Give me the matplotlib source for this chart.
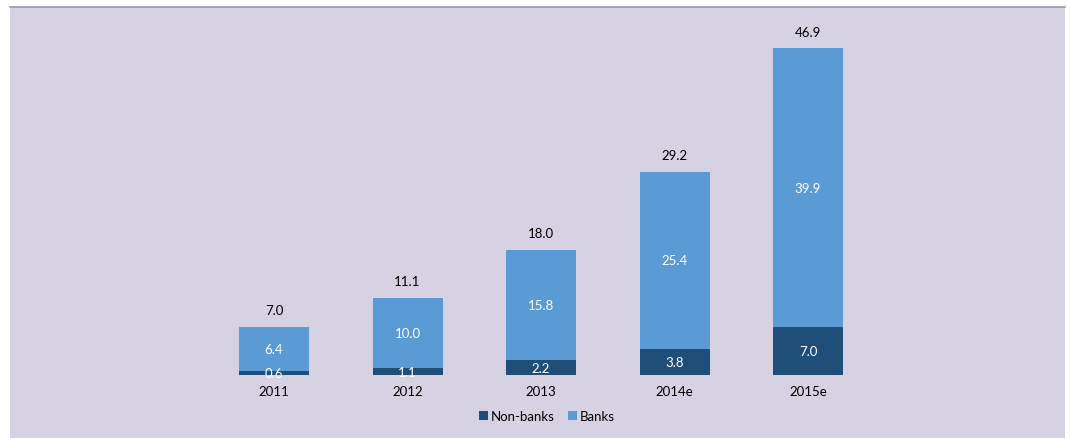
import matplotlib.pyplot as plt
from matplotlib.patches import Rectangle
from matplotlib.lines import Line2D
import numpy as np

years = ['2011', '2012', '2013', '2014e', '2015e']
non_banks = [0.6, 1.1, 2.2, 3.8, 7.0]
banks = [6.4, 10.0, 15.8, 25.4, 39.9]
totals = [7.0, 11.1, 18.0, 29.2, 46.9]

dark = '#1F4E79'
light = '#5B9BD5'
bg = '#D6D2E3'

plt.rcParams['font.family'] = ['Lato', 'DejaVu Sans']

fig = plt.figure(figsize=(10.70, 4.39), dpi=100)
fig.patch.set_facecolor('white')
fig.patches.append(Rectangle((10 / 1070, 0), 1055 / 1070, 431 / 439,
                             transform=fig.transFigure, facecolor=bg,
                             edgecolor='none', zorder=-5))
fig.lines.append(Line2D([10 / 1070, 1065 / 1070], [431 / 439, 431 / 439],
                        transform=fig.transFigure, color='#9A96A8', lw=1.2, zorder=-4))

ax = fig.add_axes([10 / 1070, 0, 1055 / 1070, 431 / 439])
ax.set_facecolor('none')
ax.patch.set_alpha(0)
x = np.arange(len(years))
w = 0.524
ax.bar(x, non_banks, width=w, color=dark, label='Non-banks')
ax.bar(x, banks, width=w, bottom=non_banks, color=light, label='Banks')

for i in range(len(years)):
    ax.text(x[i], non_banks[i] / 2, f'{non_banks[i]:.1f}', ha='center', va='center',
            color='white', fontsize=9.5)
    ax.text(x[i], non_banks[i] + banks[i] / 2, f'{banks[i]:.1f}', ha='center',
            va='center', color='white', fontsize=9.5)
    ax.text(x[i], totals[i] + 2.4, f'{totals[i]:.1f}', ha='center', va='center',
            color='black', fontsize=9.5)
    ax.text(x[i], -2.3, years[i], ha='center', va='center', color='black', fontsize=9.5)

ax.set_xlim(-1.978, 5.925)
ax.set_ylim(-8.98, 52.85)
ax.axis('off')

leg = ax.legend(loc='center', ncol=2, frameon=False, fontsize=9.5,
                handlelength=0.7, handleheight=0.7, handletextpad=0.2,
                columnspacing=1.0, bbox_to_anchor=(547 / 1070, 22 / 439),
                bbox_transform=fig.transFigure)

fig.savefig('out.png', dpi=100)
